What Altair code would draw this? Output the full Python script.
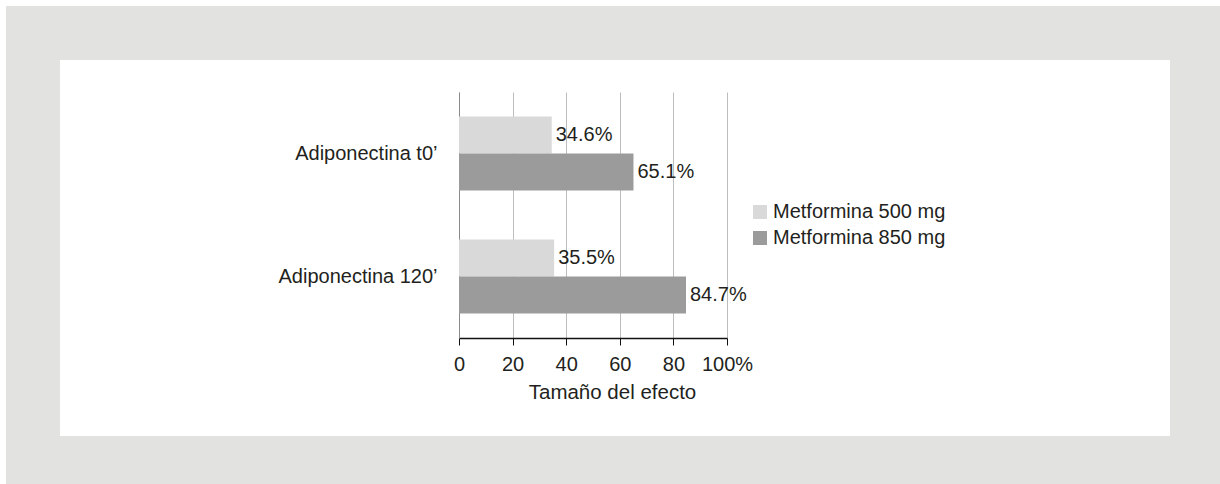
import altair as alt
import pandas as pd

# Effect size of metformin dose on adiponectin
categories = ["Adiponectina t0’", "Adiponectina 120’"]
series = ["Metformina 500 mg", "Metformina 850 mg"]
values_500 = [34.6, 35.5]
values_850 = [65.1, 84.7]
x_ticks = [0, 20, 40, 60, 80, 100]

colors = ["#d9d9d9", "#9b9b9b"]
text_color = "#231f20"
font = "Liberation Sans"
fs = 20

rows = []
for cat, v5, v8 in zip(categories, values_500, values_850):
    rows.append({"categoria": cat, "serie": series[0], "valor": v5})
    rows.append({"categoria": cat, "serie": series[1], "valor": v8})
df = pd.DataFrame(rows)

y_enc = alt.Y(
    "categoria:N",
    sort=categories,
    title=None,
    scale=alt.Scale(paddingInner=0.4, paddingOuter=0.2),
    axis=alt.Axis(
        ticks=False,
        labelPadding=22,
        labelFontSize=fs,
        labelColor=text_color,
        labelFont=font,
        labelLimit=0,
        domainColor="#8a8a8a",
        domainWidth=1,
        grid=False,
    ),
)
x_enc = alt.X(
    "valor:Q",
    scale=alt.Scale(domain=[0, 100], nice=False),
    title="Tamaño del efecto",
    axis=alt.Axis(
        values=x_ticks,
        labelExpr="datum.value == 100 ? '100%' : datum.label",
        labelOverlap=False,
        labelFlush=False,
        labelFontSize=fs,
        labelColor=text_color,
        labelFont=font,
        labelPadding=9,
        tickSize=7,
        tickColor="#111111",
        tickWidth=1,
        domainColor="#111111",
        domainWidth=1.5,
        grid=True,
        gridColor="#bdbdbd",
        gridWidth=1,
        titleFontSize=20.5,
        titleFontWeight="normal",
        titleColor=text_color,
        titleFont=font,
        titlePadding=8,
        titleX=153,
    ),
)
yoff = alt.YOffset("serie:N", sort=series, scale=alt.Scale(paddingInner=0, paddingOuter=0))

bars = alt.Chart(df).mark_bar().encode(
    x=x_enc,
    y=y_enc,
    yOffset=yoff,
    color=alt.Color(
        "serie:N",
        sort=series,
        scale=alt.Scale(domain=series, range=colors),
        legend=alt.Legend(
            title=None,
            orient="none",
            legendX=291,
            legendY=110,
            symbolType="square",
            symbolSize=196,
            symbolStrokeWidth=0,
            labelFontSize=fs,
            labelColor=text_color,
            labelFont=font,
            labelLimit=0,
            labelOffset=3,
            rowPadding=6,
            padding=0,
        ),
    ),
)

labels = (
    alt.Chart(df)
    .transform_calculate(etiqueta="format(datum.valor, '.1f') + '%'")
    .mark_text(align="left", baseline="middle", dx=4, fontSize=fs, color=text_color, font=font)
    .encode(
        x=alt.X("valor:Q"),
        y=alt.Y("categoria:N", sort=categories),
        yOffset=yoff,
        text="etiqueta:N",
    )
)

# Grey passe-partout around the white panel
frame = (
    alt.Chart(pd.DataFrame({"k": [0]}))
    .mark_rect(fillOpacity=0, stroke="#e2e2e0", strokeWidth=54)
    .encode(x=alt.value(-426), x2=alt.value(738), y=alt.value(-59), y2=alt.value(371))
)

chart = (
    alt.layer(bars, labels, frame)
    .properties(
        width=268,
        height=246,
        autosize=alt.AutoSizeParams(type="none"),
        padding={"left": 459, "top": 92, "right": 493, "bottom": 146},
        background="white",
    )
    .configure_view(stroke=None)
)

chart.save("out.html", embed_options={"renderer": "svg", "actions": False})
